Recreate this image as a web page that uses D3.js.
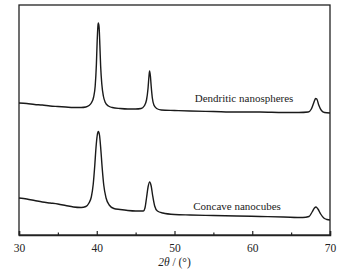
<!DOCTYPE html>
<html><head><meta charset="utf-8">
<script src="https://cdn.jsdelivr.net/npm/d3@7"></script>
<style>html,body{margin:0;padding:0;background:#fff;}svg{display:block;}</style>
</head><body>
<script>
const xTicks = [30, 40, 50, 60, 70];
const xMinorTicks = [35, 45, 55, 65];
const xTitle = ["2θ", " / (°)"];
const seriesNames = ["Dendritic nanospheres", "Concave nanocubes"];
const dendritic = [[30,132],[31,131.5],[32,130.5],[33,130],[34,129],[35,128.5],[36,128],[37,127.5],[38,127.5],[38.6,128],[39.0,129.5],[39.3,132],[39.6,138],[39.8,149],[39.95,170],[40.05,193],[40.15,209],[40.2,212],[40.3,208],[40.4,190],[40.5,169],[40.65,151],[40.85,139],[41.1,132.5],[41.5,129],[42,127.5],[43,126.5],[44,126],[45,126],[45.7,126.5],[46.1,129],[46.4,135],[46.6,147],[46.72,159],[46.8,164],[46.9,159],[47.0,149],[47.15,137],[47.35,130],[47.7,126.5],[48.3,125],[50,124.5],[52,124],[55,123.5],[58,123],[61,123],[64,122.5],[66,122.5],[67.2,123],[67.6,126],[67.9,132],[68.15,136.5],[68.3,136],[68.55,130],[68.9,124.5],[69.3,122.5],[70,122]];
const concave = [[30,37],[31,36],[32,34.5],[33,33],[34,32],[35,31],[36,29.5],[37,28],[38,27.5],[38.6,28.5],[39.0,32],[39.3,38],[39.55,51],[39.75,70],[39.9,87],[40.05,99],[40.2,103.5],[40.35,100],[40.5,88],[40.7,67],[40.9,50],[41.2,37],[41.6,30],[42.2,26.5],[43,25.5],[44,24.5],[45,24],[46.0,24],[46.2,27],[46.4,37],[46.6,48],[46.8,53],[47.0,49],[47.2,39],[47.45,29],[47.8,24],[48.5,22],[50,20.5],[52,20],[55,19.5],[58,19],[61,18.5],[64,18],[66.5,17.5],[67.3,18.5],[67.7,23],[68.0,27],[68.2,28],[68.45,26],[68.8,21],[69.2,17],[69.6,15.5],[70,15]];
const labelPos = [[52.6, 133], [52.4, 25]];

const W = 357, H = 275;
const m = {left: 19, right: 27, top: 5, bottom: 40};
const svg = d3.select("body").append("svg").attr("width", W).attr("height", H);
const x = d3.scaleLinear().domain([30, 70]).range([m.left, W - m.right]);
const y = d3.scaleLinear().domain([0, 230]).range([H - m.bottom, m.top]);
const font = "'Liberation Serif','Times New Roman',serif";

svg.append("rect").attr("x", m.left).attr("y", m.top)
  .attr("width", W - m.right - m.left).attr("height", H - m.bottom - m.top)
  .attr("fill", "none").attr("stroke", "#222").attr("stroke-width", 1.3);

const ax = svg.append("g").attr("transform", `translate(0,${H - m.bottom})`)
  .call(d3.axisBottom(x).tickValues(xTicks).tickSize(-4).tickPadding(9).tickFormat(d3.format("d")));
ax.select(".domain").attr("stroke", "#222").attr("stroke-width", 1.5);
ax.selectAll(".tick line").attr("stroke", "#222").attr("stroke-width", 1.2);
ax.selectAll(".tick text").attr("font-family", font).attr("font-size", 11.5).attr("fill", "#222");
const axm = svg.append("g").attr("transform", `translate(0,${H - m.bottom})`)
  .call(d3.axisBottom(x).tickValues(xMinorTicks).tickSize(-2.5).tickFormat(""));
axm.select(".domain").remove();
axm.selectAll(".tick line").attr("stroke", "#222").attr("stroke-width", 1.2);

const t = svg.append("text").attr("x", (m.left + W - m.right) / 2).attr("y", 266)
  .attr("text-anchor", "middle").attr("font-family", font).attr("font-size", 11.5).attr("fill", "#222");
t.append("tspan").attr("font-style", "italic").text(xTitle[0]);
t.append("tspan").text(xTitle[1]);

const line = d3.line().x(d => x(d[0])).y(d => y(d[1])).curve(d3.curveMonotoneX);
[dendritic, concave].forEach(s => {
  svg.append("path").datum(s).attr("d", line).attr("fill", "none")
    .attr("stroke", "#1a1a1a").attr("stroke-width", 1.4).attr("stroke-linejoin", "round");
});
seriesNames.forEach((n, i) => {
  svg.append("text").attr("x", x(labelPos[i][0])).attr("y", y(labelPos[i][1]))
    .attr("font-family", font).attr("font-size", 11).attr("fill", "#222").text(n);
});
</script>
</body></html>
